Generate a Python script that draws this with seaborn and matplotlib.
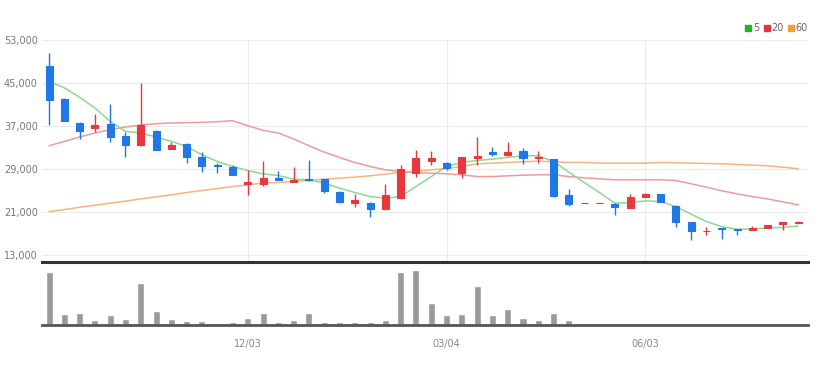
import numpy as np
import pandas as pd
import seaborn as sns
import matplotlib.pyplot as plt
from matplotlib.lines import Line2D

# weekly candles
open_ = [48100, 42000, 37500, 36550, 37400, 35100, 33500, 36100, 32800, 33700,
         31300, 29700, 29300, 26300, 26200, 27400, 26600, 27100, 27100, 24800,
         22600, 22700, 21600, 23600, 28200, 30500, 30200, 28200, 31000, 32100,
         31600, 32400, 31100, 30800, 24200, 22600, 22600, 22500, 21800, 23800,
         24300, 22200, 19100, 17400, 18100, 17800, 17700, 18100, 18700, 19000]
high = [50600, 42200, 37700, 39300, 41100, 35800, 45000, 36300, 34100, 33800,
        32200, 30200, 29700, 28900, 30500, 28700, 29400, 30600, 27200, 24900,
        24400, 22900, 26200, 29800, 32600, 32400, 30300, 31300, 34900, 33100,
        34100, 33000, 32300, 30900, 25300, 22600, 22600, 22600, 24400, 24500,
        24400, 22300, 19200, 18200, 18100, 17900, 18400, 18600, 19200, 19400]
low = [37200, 37900, 34600, 35800, 34100, 31300, 33300, 32500, 32700, 30200,
       28500, 28200, 27800, 24200, 25900, 26900, 26500, 26800, 24600, 22700,
       22000, 20100, 21600, 23400, 27500, 29700, 28900, 27300, 29700, 31500,
       31500, 29900, 30100, 23800, 22100, 22600, 22600, 20500, 21800, 23700,
       22900, 18300, 15800, 16700, 16000, 16700, 17600, 18000, 17700, 18900]
close = [41900, 38000, 36100, 37200, 34900, 33400, 37100, 32600, 33500, 31200,
         29600, 29500, 27900, 26600, 27300, 26900, 26900, 26900, 24900, 22900,
         23300, 21500, 24200, 29000, 31000, 31000, 29100, 31200, 31500, 31800,
         32100, 31000, 31300, 23900, 22500, 22600, 22600, 21900, 23700, 24300,
         22900, 19200, 17500, 17500, 17800, 17600, 18000, 18500, 19100, 19200]
volume = [155, 32, 36, 16, 30, 17, 124, 41, 17, 11, 11, 6, 10, 20, 36, 10, 16, 35,
          10, 10, 10, 10, 15, 155, 161, 64, 30, 32, 115, 30, 47, 21, 15, 35, 15,
          0, 0, 3, 6, 3, 2, 6, 6, 4, 5, 2, 2, 2, 2, 2]

# moving averages (5 / 20 / 60)
ma5 = [45300, 44100, 42340, 40360, 37870, 36000, 35700, 34950, 34130, 33200,
       31650, 30400, 29470, 28720, 28100, 27790, 27100, 27000, 26370, 25440,
       24630, 23880, 23570, 23880, 25740, 27600, 29470, 30220, 30590, 30840,
       31150, 31460, 31460, 30400, 28410, 26490, 24630, 22640, 22760, 23070,
       22950, 22010, 20590, 19220, 18280, 17790, 17850, 18030, 18150, 18400]
ma20 = [33330, 34130, 34950, 35700, 36310, 36810, 37190, 37430, 37560, 37620,
        37680, 37800, 37990, 37060, 36190, 35700, 34580, 33330, 32150, 31150,
        30220, 29470, 28850, 28540, 28350, 28230, 28100, 27920, 27600, 27600,
        27730, 27850, 27920, 27920, 27600, 27360, 27170, 26990, 26990, 26990,
        26990, 26860, 26240, 25620, 24940, 24380, 23880, 23440, 22880, 22320]
ma60 = [21080, 21450, 21890, 22260, 22640, 23010, 23440, 23820, 24190, 24630,
        25000, 25370, 25740, 26060, 26370, 26490, 26680, 26860, 27120, 27300,
        27490, 27740, 28050, 28360, 28600, 28850, 29100, 29470, 29970, 30090,
        30220, 30340, 30470, 30340, 30220, 30220, 30090, 30090, 30090, 30090,
        30220, 30150, 30090, 30030, 29970, 29840, 29720, 29590, 29340, 29040]

tick_idx = [13, 26, 39]
tick_labels = ['12/03', '03/04', '06/03']
price_ticks = [13000, 21000, 29000, 37000, 45000, 53000]

RED = '#e8383d'
BLUE = '#1f78e6'

df = pd.DataFrame({'open': open_, 'high': high, 'low': low, 'close': close,
                   'volume': volume, 'ma5': ma5, 'ma20': ma20, 'ma60': ma60})
df['idx'] = np.arange(len(df))
colors = np.where(df['close'] >= df['open'], RED, BLUE)

sns.set_style('white')
plt.rcParams['font.family'] = ['Liberation Sans Narrow', 'DejaVu Sans']

fig = plt.figure(figsize=(8.23, 3.65), dpi=100)
ax = fig.add_axes([42 / 823, 1 - 262 / 365, 766 / 823, 222 / 365])
axv = fig.add_axes([42 / 823, 1 - 325 / 365, 766 / 823, 59 / 365])

# moving average lines
sns.lineplot(data=df, x='idx', y='ma60', ax=ax, color='#f7b47c', lw=1.1, zorder=2)
sns.lineplot(data=df, x='idx', y='ma20', ax=ax, color='#f29a9a', lw=1.1, zorder=2)
sns.lineplot(data=df, x='idx', y='ma5', ax=ax, color='#8fd88f', lw=1.1, zorder=2)

# candles
ax.vlines(df['idx'], df['low'], df['high'], colors=colors, lw=1, zorder=3)
ax.bar(df['idx'], (df['close'] - df['open']).abs(),
       bottom=df[['open', 'close']].min(axis=1), width=0.46,
       color=colors, edgecolor=colors, linewidth=0.8, zorder=4)

ax.set_xlim(-0.46, 49.64)
ax.set_ylim(11700, 53000)
ax.set_yticks(price_ticks)
ax.set_yticklabels([f'{v:,}' for v in price_ticks])
ax.set_xticks(tick_idx)
ax.set_xticklabels([])
ax.grid(True, color='#ebebeb', lw=0.8)
ax.tick_params(length=0, pad=3, labelsize=7, labelcolor='#777777')
ax.set_xlabel('')
ax.set_ylabel('')
for s in ['left', 'right', 'top']:
    ax.spines[s].set_visible(False)
ax.spines['bottom'].set_color('#333333')
ax.spines['bottom'].set_linewidth(2.2)

handles = [Line2D([], [], marker='s', ls='', color=c, markersize=4, label=l)
           for c, l in [('#22b422', '5'), ('#e8323c', '20'), ('#f39c3c', '60')]]
ax.legend(handles=handles, loc='lower right', bbox_to_anchor=(1.0, 1.03),
          ncol=3, frameon=False, fontsize=7, handletextpad=0.05,
          columnspacing=0.4, borderaxespad=0, borderpad=0, handlelength=0.8,
          labelcolor='#666666')

# volume
sns.barplot(data=df, x='idx', y='volume', native_scale=True, color='#9a9a9a',
            width=0.46, errorbar=None, saturation=1, ax=axv)
axv.set_xlim(-0.46, 49.64)
axv.set_ylim(0, 173)
axv.set_yticks([])
axv.set_xticks(tick_idx)
axv.set_xticklabels(tick_labels)
axv.tick_params(axis='x', length=4, width=1, color='#555555', pad=6,
                labelsize=7, labelcolor='#888888')
axv.set_xlabel('')
axv.set_ylabel('')
for s in ['left', 'right', 'top']:
    axv.spines[s].set_visible(False)
axv.spines['bottom'].set_color('#555555')
axv.spines['bottom'].set_linewidth(2)

plt.savefig('out.png', dpi=100)
